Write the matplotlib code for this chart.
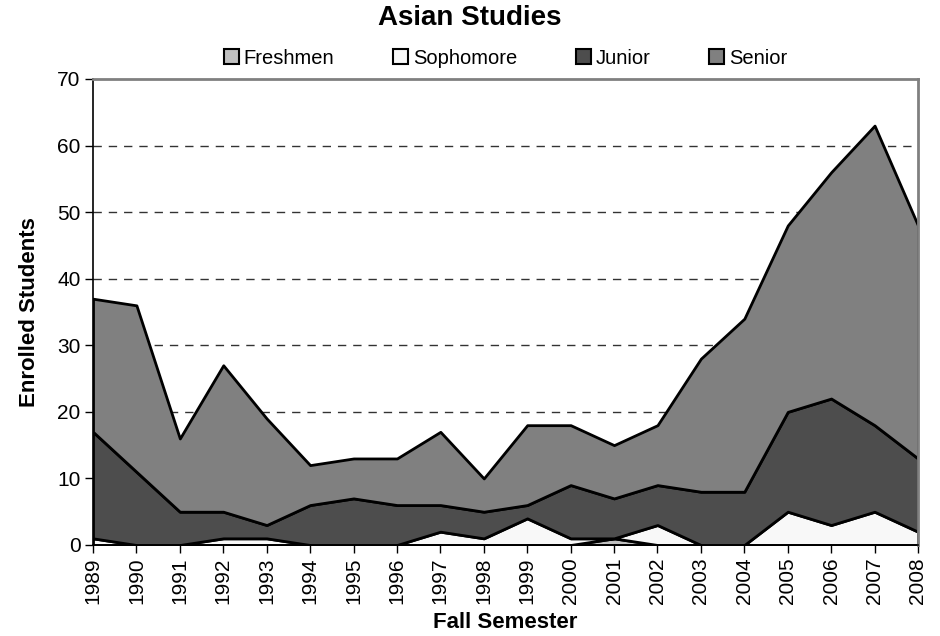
import matplotlib
matplotlib.use("Agg")
import matplotlib.pyplot as plt
from matplotlib.patches import Patch

# Asian Studies - enrolled students by class, fall semesters
years = list(range(1989, 2009))
freshmen = [0, 0, 0, 0, 0, 0, 0, 0, 0, 0, 0, 0, 1, 0, 0, 0, 0, 0, 0, 0]
sophomore = [1, 0, 0, 1, 1, 0, 0, 0, 2, 1, 4, 1, 0, 3, 0, 0, 5, 3, 5, 2]
junior = [16, 11, 5, 4, 2, 6, 7, 6, 4, 4, 2, 8, 6, 6, 8, 8, 15, 19, 13, 11]
senior = [20, 25, 11, 22, 16, 6, 6, 7, 11, 5, 12, 9, 8, 9, 20, 26, 28, 34, 45, 35]

labels = ["Freshmen", "Sophomore", "Junior", "Senior"]
colors = ["#c0c0c0", "#f8f8f8", "#4d4d4d", "#808080"]

plt.rcParams["font.family"] = ["Liberation Sans", "DejaVu Sans"]

fig = plt.figure(figsize=(9.4, 6.36), dpi=100)
ax = fig.add_axes([93 / 940, 1 - 545 / 636, 825 / 940, 466 / 636])

ax.stackplot(years, freshmen, sophomore, junior, senior, colors=colors,
             edgecolor="black", linewidth=2, zorder=3)

ax.set_xlim(1989, 2008)
ax.set_ylim(0, 70)
ax.set_xticks(years)
ax.set_xticklabels([str(y) for y in years], rotation=90, fontsize=15)
ax.set_yticks(range(0, 80, 10))
ax.tick_params(axis="y", labelsize=15, direction="out", length=6, width=1, pad=3)
ax.tick_params(axis="x", direction="out", length=6, width=1, pad=3)

# dashed horizontal gridlines
for v in range(10, 70, 10):
    ax.axhline(v, color="#333333", linestyle=(0, (6, 5)), linewidth=1, zorder=1)

ax.spines["top"].set_color("#808080")
ax.spines["right"].set_color("#808080")
ax.spines["top"].set_linewidth(2)
ax.spines["right"].set_linewidth(2)
ax.spines["left"].set_linewidth(1.2)
ax.spines["bottom"].set_linewidth(1.2)
for s in ax.spines.values():
    s.set_zorder(4)

ax.set_xlabel("Fall Semester", fontsize=16, fontweight="bold")
ax.set_ylabel("Enrolled Students", fontsize=16, fontweight="bold")
ax.xaxis.set_label_coords(0.5, (545 - 622) / 466)
ax.yaxis.set_label_coords((30 - 93) / 825, 0.5)
ax.xaxis.label.set_va("center")
ax.yaxis.label.set_va("center")

fig.text(470 / 940, 1 - 18 / 636, "Asian Studies", fontsize=20, fontweight="bold",
         ha="center", va="center")

handles = [Patch(facecolor=c, edgecolor="black", linewidth=1.5) for c in colors]
ax.legend(handles, labels, loc="center", bbox_to_anchor=(0.5, (545 - 58) / 466),
          ncol=4, frameon=False, fontsize=14.5, handlelength=0.75, handleheight=0.75,
          handletextpad=0.25, columnspacing=2.9, borderaxespad=0)

fig.savefig("out.png", dpi=100)
